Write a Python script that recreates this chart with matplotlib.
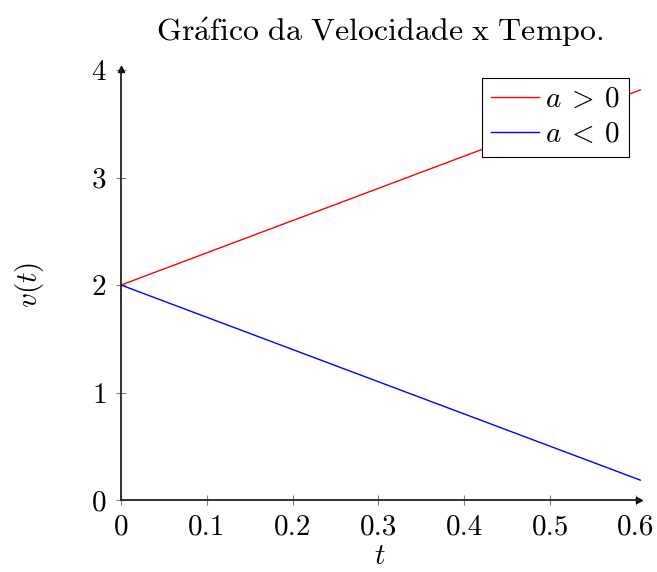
import matplotlib.pyplot as plt
import numpy as np

plt.rcParams['font.family'] = 'serif'
plt.rcParams['font.serif'] = ['cmr10']
plt.rcParams['mathtext.fontset'] = 'cm'
plt.rcParams['axes.formatter.use_mathtext'] = True

t = np.array([0, 0.605])
v_pos = np.array([2, 3.815])   # a > 0
v_neg = np.array([2, 0.185])   # a < 0
xticks = [0, 0.1, 0.2, 0.3, 0.4, 0.5, 0.6]
yticks = [0, 1, 2, 3, 4]

fig = plt.figure(figsize=(6.57, 5.72), dpi=100)
ax = fig.add_axes([121/657, 1-500/572, (639-121)/657, (500-69)/572])

ax.plot(t, v_pos, color='red', lw=1, label=r'$a \:>\: 0$', clip_on=False)
ax.plot(t, v_neg, color='blue', lw=1, label=r'$a \:<\: 0$', clip_on=False)

ax.set_xlim(0, 0.6035)
ax.set_ylim(0, 4.01)
ax.set_xticks(xticks)
ax.set_yticks(yticks)
ax.set_xticklabels(['0', '0.1', '0.2', '0.3', '0.4', '0.5', '0.6'])
ax.tick_params(direction='inout', length=7, width=0.8, color='grey',
               labelsize=21, pad=7)

for s in ['top', 'right']:
    ax.spines[s].set_visible(False)
for s in ['left', 'bottom']:
    ax.spines[s].set_linewidth(1.3)
    ax.spines[s].set_color('#222222')
ax.plot(1, 0, '>k', ms=5, transform=ax.transAxes, clip_on=False)
ax.plot(0, 1, '^k', ms=5, transform=ax.transAxes, clip_on=False)

ax.set_title(r'$\mathrm{Gr\acute{a}fico\ da\ Velocidade\ x\ Tempo.}$', fontsize=23, pad=20)
ax.set_xlabel(r'$t$', fontsize=21, labelpad=2)
ax.set_ylabel(r'$v(t)$', fontsize=21, labelpad=32)

leg = ax.legend(loc='upper right', bbox_to_anchor=(629/657, 1-78/572),
                bbox_transform=fig.transFigure, fontsize=21, fancybox=False,
                framealpha=1, edgecolor='black', handlelength=1.65,
                handletextpad=0.2, borderpad=0.3, labelspacing=0.3,
                borderaxespad=0)
leg.get_frame().set_linewidth(0.8)

fig.savefig('out.png', dpi=100)
